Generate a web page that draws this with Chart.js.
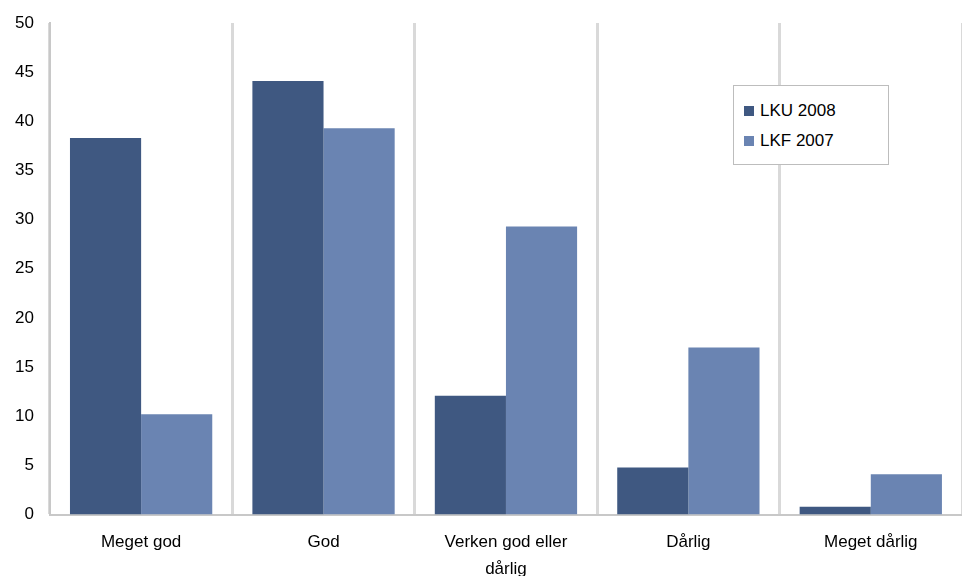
<!DOCTYPE html>
<html>
<head>
<meta charset="utf-8">
<script src="https://cdn.jsdelivr.net/npm/chart.js@4"></script>
<style>
  html, body { margin: 0; padding: 0; background: #fff; }
  #wrap { position: relative; width: 962px; height: 576px; }
  #legend {
    position: absolute; left: 733px; top: 85px; width: 156px; height: 80px;
    border: 1px solid #bdbdbd; background: #fff; box-sizing: border-box;
    font-family: 'Liberation Sans', Arial, sans-serif; font-size: 17px; color: #000;
    padding: 10px 0 0 10px;
  }
  #legend div { height: 30px; line-height: 30px; }
  #legend span { display: inline-block; width: 10px; height: 10px; margin-right: 6px; }
</style>
</head>
<body>
<div id="wrap">
  <canvas id="chart" width="962" height="576"></canvas>
  <div id="legend"></div>
</div>
<script>
// Chart data
const categories = ['Meget god', 'God', ['Verken god eller', 'dårlig'], 'Dårlig', 'Meget dårlig'];
const seriesNames = ['LKU 2008', 'LKF 2007'];
const lku2008 = [38.3, 44.1, 12.1, 4.8, 0.8];
const lkf2007 = [10.2, 39.3, 29.3, 17.0, 4.1];
const colors = ['#3f5881', '#6a84b2'];

const legend = document.getElementById('legend');
seriesNames.forEach((n, i) => {
  legend.innerHTML += `<div><span style="background:${colors[i]}"></span>${n}</div>`;
});

Chart.defaults.font.family = "'Liberation Sans', Arial, sans-serif";
Chart.defaults.font.size = 17;
Chart.defaults.color = '#000';

new Chart(document.getElementById('chart'), {
  type: 'bar',
  data: {
    labels: categories,
    datasets: [
      { label: seriesNames[0], data: lku2008, backgroundColor: colors[0] },
      { label: seriesNames[1], data: lkf2007, backgroundColor: colors[1] }
    ]
  },
  options: {
    responsive: false,
    animation: false,
    layout: { padding: { top: 23, right: 0, left: 7, bottom: -21 } },
    datasets: { bar: { categoryPercentage: 0.78, barPercentage: 1 } },
    plugins: { legend: { display: false }, tooltip: { enabled: false } },
    scales: {
      y: {
        min: 0, max: 50,
        ticks: { stepSize: 5, padding: 8 },
        grid: { display: false },
        border: { color: '#c8c8c8', width: 2 }
      },
      x: {
        offset: true,
        ticks: { padding: 14, maxRotation: 0, font: { lineHeight: 1.6 } },
        grid: { color: '#d9d9d9', lineWidth: 3, offset: true, drawTicks: false },
        border: { color: '#c8c8c8', width: 2 }
      }
    }
  }
});
</script>
</body>
</html>
